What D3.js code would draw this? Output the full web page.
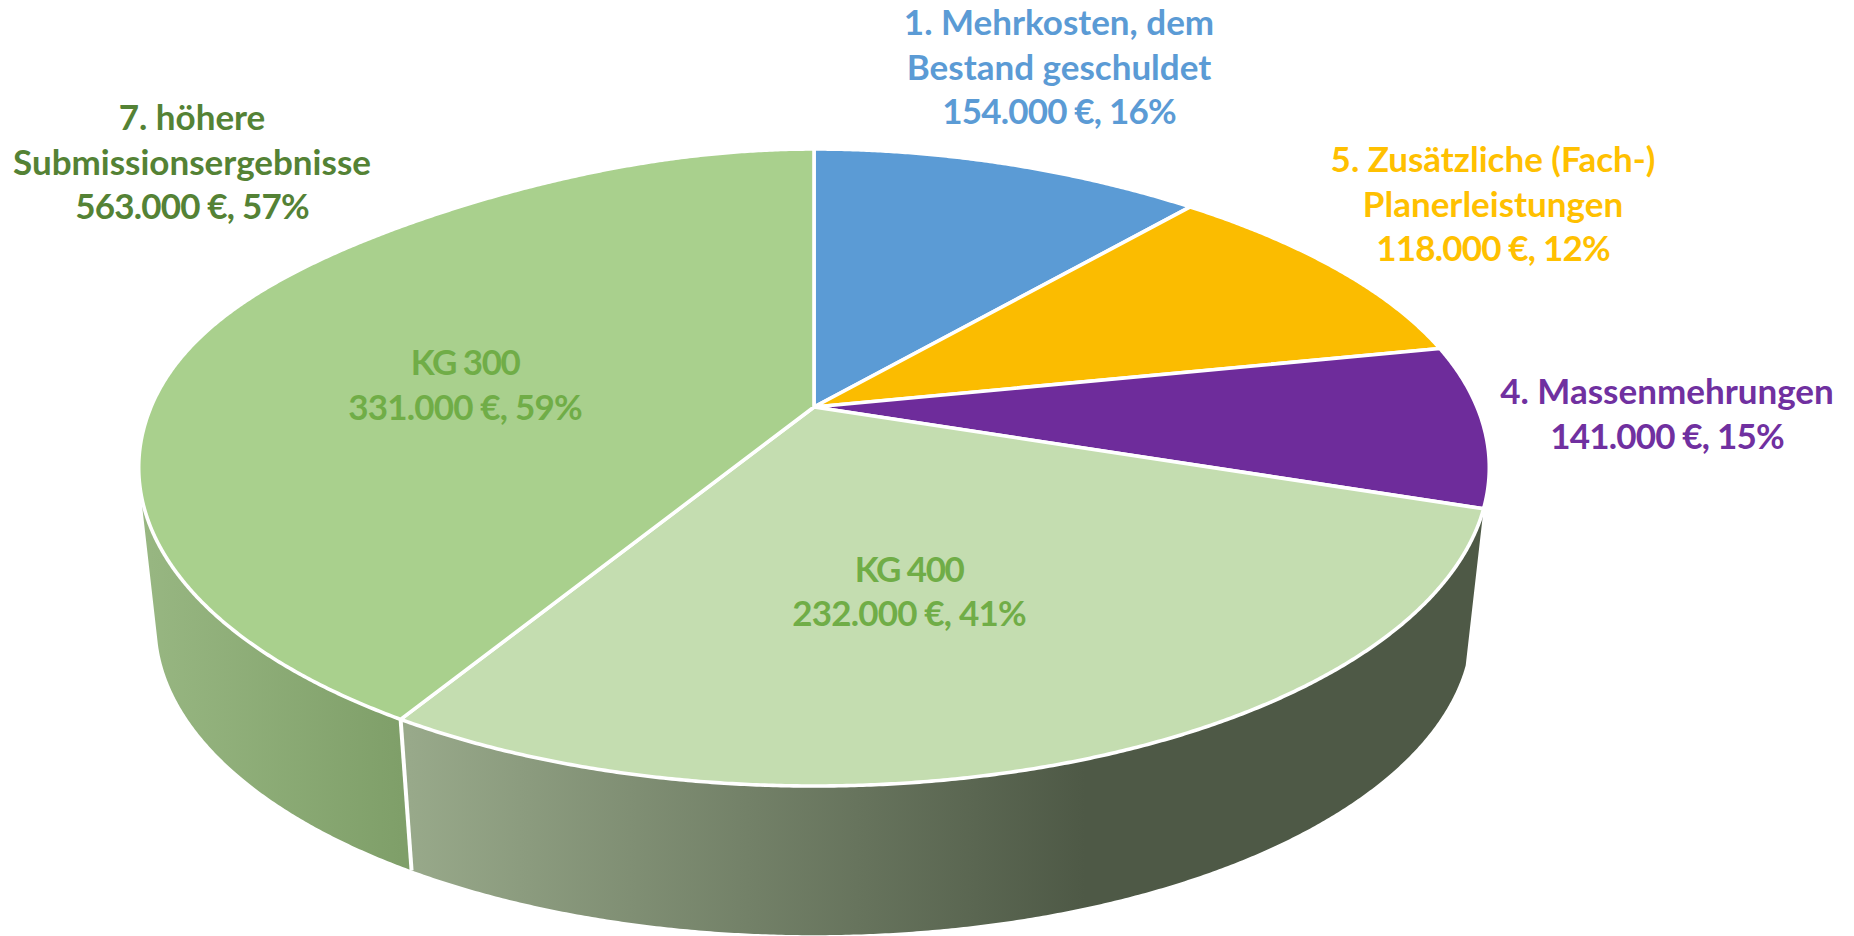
<!DOCTYPE html>
<html>
<head>
<meta charset="utf-8">
<script src="https://cdn.jsdelivr.net/npm/d3@7"></script>
<style>
  html, body { margin: 0; padding: 0; background: #fff; overflow: hidden; }
  text { font-family: Lato, "Open Sans", sans-serif; font-weight: 700; text-anchor: middle; }
</style>
</head>
<body>
<div id="chart"></div>
<script>
// slices in drawing order, clockwise from 12 o'clock
// the drawn wedges do not follow the printed percentages, so the shares are read off the picture
let sliceNames = ["1. Mehrkosten", "5. Planerleistungen", "4. Massenmehrungen", "KG 400", "KG 300"];
let sliceShares = [11.25, 10.55, 8.25, 28.7, 41.25];
let sliceColors = ["#5B9BD5", "#FBBC00", "#6E2C9B", "#C4DDB0", "#A9D08D"];

// label texts
let labelTitles = [
  ["1. Mehrkosten, dem", "Bestand geschuldet"],
  ["5. Zusätzliche (Fach-)", "Planerleistungen"],
  ["4. Massenmehrungen"],
  ["KG 400"],
  ["KG 300"],
  ["7. höhere", "Submissionsergebnisse"]
];
let labelAmounts = [154000, 118000, 141000, 232000, 331000, 563000];
let labelPercents = [16, 12, 15, 41, 59, 57];
let labelColors = ["#5B9BD5", "#FFC000", "#7030A0", "#70AD47", "#70AD47", "#548235"];
let labelX = [1059, 1493, 1667, 909, 465, 192];
let labelY = [35, 172, 404, 581.5, 375, 130];

function init(){
  let width = 1854, height = 936;
  let fontSize = 35, lineGap = 44.5;

  let svg = d3.select("#chart")
    .append("svg")
      .attr("width", width)
      .attr("height", height);

  // the pie lies in perspective: far side squeezed, near side stretched
  let persp = 0.19;
  let x = d3.scaleLinear().domain([-1, 1]).range([814 - 663, 814 + 663]);
  let y = d3.scaleLinear().domain([-1, 1]).range([407 + 307, 407 - 307]);

  function project(a, r) {
    let u = r * Math.sin(a), v = r * Math.cos(a);
    let w = 1 + persp * v;
    // the far side of the outline is a bit flatter than a true ellipse
    let s = Math.sin(2 * a);
    let flat = v > 0 ? r * s * s * (u < 0 ? 11 : 4) : 0;
    return [x(u / w), y(v / w) + flat];
  }

  // bottom ring = top ring pulled towards a vanishing point below the picture
  let vanish = [812, 6394], ringScale = 0.9734;
  function drop(p) {
    return [vanish[0] + ringScale * (p[0] - vanish[0]), vanish[1] + ringScale * (p[1] - vanish[1])];
  }

  function arcPoints(a0, a1) {
    let n = Math.max(2, Math.ceil((a1 - a0) / 0.005));
    return d3.range(n + 1).map(i => project(a0 + (a1 - a0) * i / n, 1));
  }

  // keep the part of the rim that faces the viewer, the wall strip folds over past it
  function frontRim(points) {
    return points.filter((p, i) => {
      let q = points[Math.min(i + 1, points.length - 1)], o = points[Math.max(i - 1, 0)];
      let d = drop(p);
      return (q[0] - o[0]) * (d[1] - p[1]) - (q[1] - o[1]) * (d[0] - p[0]) < 0;
    });
  }

  let line = d3.line();
  let arcs = d3.pie().sort(null).value(d => d)(sliceShares);

  // gradients for the outer wall
  let defs = svg.append("defs");
  function wallGradient(id, stops) {
    let g = defs.append("linearGradient")
      .attr("id", id)
      .attr("gradientUnits", "userSpaceOnUse")
      .attr("x1", stops[0][0]).attr("x2", stops[stops.length - 1][0])
      .attr("y1", 0).attr("y2", 0);
    stops.forEach(s => {
      g.append("stop")
        .attr("offset", (s[0] - stops[0][0]) / (stops[stops.length - 1][0] - stops[0][0]))
        .attr("stop-color", s[1]);
    });
  }
  wallGradient("wall400", [[410, "#98A98A"], [1085, "#4E5946"]]);
  wallGradient("wall300", [[140, "#98B782"], [402, "#7F9F69"]]);

  // walls, only the two front slices show one
  let walls = [
    {fill: "url(#wall400)", from: arcs[3].startAngle, to: arcs[3].endAngle},
    {fill: "url(#wall300)", from: arcs[4].startAngle, to: arcs[4].endAngle}
  ];
  svg.append("g")
    .selectAll("path")
    .data(walls)
    .enter()
    .append("path")
      .attr("d", d => {
        let top = frontRim(arcPoints(d.from, d.to));
        return line(top.concat(top.slice().reverse().map(drop))) + "Z";
      })
      .attr("fill", d => d.fill);

  // white seam between the two walls
  let seamTop = project(arcs[4].startAngle, 1);
  svg.append("path")
    .attr("d", line([seamTop, drop(seamTop)]))
    .attr("stroke", "#fff")
    .attr("stroke-width", 4);

  // top face
  svg.append("g")
    .selectAll("path")
    .data(arcs)
    .enter()
    .append("path")
      .attr("d", d => line([project(0, 0)].concat(arcPoints(d.startAngle, d.endAngle))) + "Z")
      .attr("fill", (d, i) => sliceColors[i])
      .attr("stroke", "#fff")
      .attr("stroke-width", 3.6)
      .attr("stroke-linejoin", "round");

  // labels
  let money = d => d3.format(",")(d).replace(",", ".") + " €";
  let labels = svg.append("g")
    .selectAll("text")
    .data(labelTitles)
    .enter()
    .append("text")
      .attr("font-size", fontSize)
      .attr("fill", (d, i) => labelColors[i]);

  labels.each(function(d, i) {
    let lines = d.concat([money(labelAmounts[i]) + ", " + labelPercents[i] + "%"]);
    d3.select(this).selectAll("tspan")
      .data(lines)
      .enter()
      .append("tspan")
        .attr("x", labelX[i])
        .attr("y", (t, k) => labelY[i] + k * lineGap)
        // Lato digits and caps run wider than the reference face
        .attr("letter-spacing", (t, k) => k === lines.length - 1 ? -0.8 : (t.startsWith("KG") ? -1.5 : 0))
        .text(t => t);
  });
}
init();
</script>
</body>
</html>
